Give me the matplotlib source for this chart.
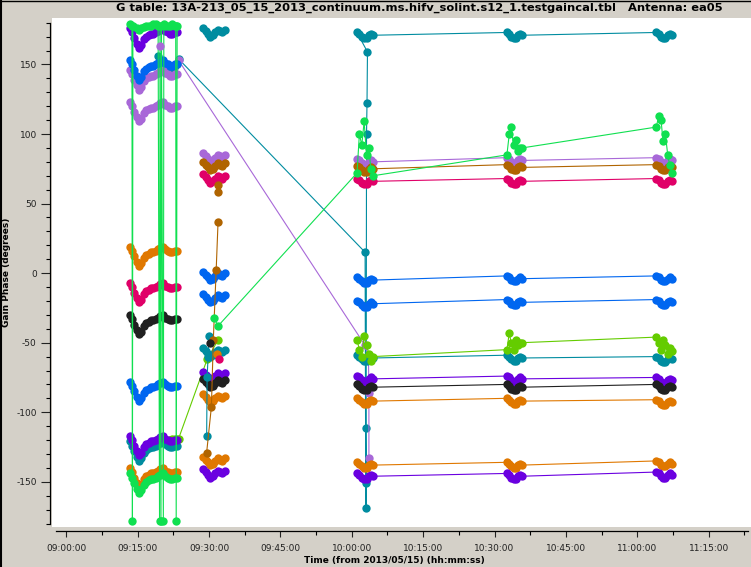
import matplotlib
matplotlib.use("Agg")
import matplotlib.pyplot as plt
from matplotlib.ticker import FuncFormatter, MultipleLocator
from matplotlib.lines import Line2D

plt.rcParams["axes.unicode_minus"] = False

# minutes after 09:00:00 on 2013/05/15
SCAN1_T = [13.3, 13.8, 14.3, 14.8, 15.3, 15.8, 16.3, 16.8, 17.3, 17.8, 18.3,
           18.8, 19.3, 19.8, 20.3, 20.8, 21.3, 21.8, 22.3, 22.8, 23.3]
SCAN1_SHAPE = [0, -3, -7, -11, -14, -12, -8, -6, -5, -4, -4,
               -3, -2, -1, 0, -2, -3, -4, -4, -3, -3]
SCAN2_T = [28.8, 29.3, 29.8, 30.3, 30.8, 31.3, 31.8, 32.3, 32.8, 33.3]
SCAN2_SHAPE = [2, 0, -2, -4, -3, -1, 1, 0, -1, 1]
SCAN3_T = [61.1, 61.6, 62.1, 62.6, 63.1, 63.6, 64.0, 64.5]
SCAN4_T = [92.6, 93.1, 93.5, 94.0, 94.5, 94.9, 95.4, 95.8]
SCAN5_T = [124.0, 124.5, 125.0, 125.4, 125.9, 126.4, 126.8, 127.3]
SHORT_SHAPE = [1, 0, -2, -3, -3, -1, 0, -1]

GREEN = "#10e050"
VIOLET = "#6a00e0"
BLUE = "#0066f0"
TEAL = "#008ca0"
LPURPLE = "#a868d8"
ORANGE = "#e07800"
BROWN = "#b06400"
PINK = "#e00068"
BLACK = "#202020"
LIME = "#64cc00"

# scan 1 starting phase per series (deg)
scan1_levels = {
    "teal_lo": (TEAL, -121), "violet_b": (VIOLET, -117), "orange_b": (ORANGE, -140),
    "green_lo": (GREEN, -144), "blue_b": (BLUE, -78), "black": (BLACK, -30),
    "pink": (PINK, -7), "orange_a": (ORANGE, 19), "lpurple_b": (LPURPLE, 123),
    "violet_a": (VIOLET, 176),
}
lpurple_a_level = 146
blue_a_level = 153

# green series wrapping around +-180 in scan 1
green_top_t = [13.3, 13.8, 13.9, 14.0, 14.8, 15.3, 15.8, 16.3, 16.8, 17.3, 17.8, 18.3,
               18.8, 19.3, 19.6, 19.7, 19.9, 20.0, 20.4, 20.5, 20.8, 21.3, 21.8, 22.3,
               22.8, 23.0, 23.1, 23.3]
green_top_v = [179, 178, -178, 178, 176, 175, 176, 177, 178, 178, 178, 179,
               179, 178, -178, 178, -178, 178, -178, 179, 178, 178, 178, 179,
               178, 178, -178, 178]

# teal and lime seen only in the second half of scan 1
teal_s1_t = [19.3, 19.8, 20.3, 20.8, 21.3, 21.8, 22.3, 22.8, 23.3, 23.6]
teal_s1_v = [156, 152, 148, 150, 146, 148, 147, 149, 150, 154]
lime_s1_t = [19.3, 19.8, 20.3, 20.8, 21.3, 21.8, 22.3, 22.8, 23.3, 23.6]
lime_s1_v = [-121, -120, -119, -120, -121, -120, -119, -119, -119, -119]

# scan 2 levels
scan2_levels = {
    "teal_hi": (TEAL, 174), "lpurple": (LPURPLE, 84), "brown": (BROWN, 78),
    "pink": (PINK, 69), "blue_a": (BLUE, -1), "blue_b": (BLUE, -17),
    "teal_lo": (TEAL, -56), "violet_a": (VIOLET, -73), "black": (BLACK, -78),
    "orange_a": (ORANGE, -89), "orange_b": (ORANGE, -134), "violet_b": (VIOLET, -143),
}
brown_s2_dots_t = [31.9, 31.8]
brown_s2_dots_v = [63, 58]
brown_s2_t = [31.9, 31.5, 30.9, 30.5, 29.5]
brown_s2_v = [37, 2, -48, -96, -129]
teal_s2_t = [30.0, 29.8, 29.6, 29.5]
teal_s2_v = [-45, -60, -75, -117]
lime_s2_t = [29.6, 31.9]
lime_s2_v = [-62, -48]
scatter_s2_t = [30.2, 31.6, 32.0]
scatter_s2_v = [-50, -58, -62]
scatter_s2_c = [BLACK, ORANGE, PINK]

# scans 3-5 levels
late_levels = {
    "teal_lo": (TEAL, [-60, -60, -61]), "lpurple": (LPURPLE, [81, 82, 82]),
    "brown": (BROWN, [76, 77, 77]), "pink": (PINK, [67, 67, 67]),
    "blue_a": (BLUE, [-4, -3, -3]), "blue_b": (BLUE, [-21, -20, -20]),
    "violet_a": (VIOLET, [-75, -75, -76]), "black": (BLACK, [-81, -81, -81]),
    "orange_a": (ORANGE, [-91, -91, -92]), "orange_b": (ORANGE, [-137, -137, -136]),
    "violet_b": (VIOLET, [-145, -145, -144]),
}
teal_hi_levels = [172, 172, 172]
teal_s3_out_t = [62.8, 62.9, 63.0, 63.0, 63.1, 63.2, 63.3]
teal_s3_out_v = [15, -111, -151, -169, 100, 122, 159]
lpurple_s3_out_t = [62.8, 63.5, 63.6, 63.6]
lpurple_s3_out_v = [-52, -60, -86, -133]

green_mid_s2_t = [31.0, 31.9]
green_mid_s2_v = [-32, -38]
green_mid_s3 = [72, 100, 92, 109, 85, 90, 75, 70]
green_mid_s4 = [85, 100, 105, 92, 96, 88, 90, 90]
green_mid_s5 = [105, 113, 110, 95, 100, 85, 78, 72]
lime_s3 = [-48, -55, -60, -45, -52, -58, -63, -60]
lime_s4 = [-55, -43, -50, -55, -48, -52, -50, -50]
lime_s5 = [-46, -50, -55, -48, -52, -58, -54, -56]

TITLE = "G table: 13A-213_05_15_2013_continuum.ms.hifv_solint.s12_1.testgaincal.tbl   Antenna: ea05"


def shaped(times, shape, level):
    return list(times), [level + s for s in shape]


fig = plt.figure(figsize=(7.51, 5.67), dpi=100, facecolor="#d4d0c8")
ax = fig.add_axes([52 / 751, 40 / 567, 699 / 751, 509 / 567], facecolor="white")

style = dict(lw=0.8, marker="o", ms=6, mew=0)


def draw(t, v, color, **kw):
    opts = dict(style)
    opts.update(kw)
    ax.plot(t, v, color=color, **opts)


# scan 1 (with links onward)
draw(teal_s1_t + teal_s3_out_t + SCAN3_T + SCAN4_T + SCAN5_T,
     teal_s1_v + teal_s3_out_v
     + [l + s for l in teal_hi_levels for s in SHORT_SHAPE], TEAL)
t1, v1 = shaped(SCAN1_T, SCAN1_SHAPE, lpurple_a_level)
draw(t1 + [23.6] + lpurple_s3_out_t, v1 + [153] + lpurple_s3_out_v, LPURPLE)
t1, v1 = shaped(SCAN1_T, SCAN1_SHAPE, blue_a_level)
draw(t1, v1, BLUE)
draw(lime_s1_t + lime_s2_t, lime_s1_v + lime_s2_v, LIME)
for name, (color, level) in scan1_levels.items():
    t1, v1 = shaped(SCAN1_T, SCAN1_SHAPE, level)
    draw(t1, v1, color)
draw(green_top_t, green_top_v, GREEN)
draw([19.7], [163], LPURPLE)

# scan 2
for name, (color, level) in scan2_levels.items():
    t2, v2 = shaped(SCAN2_T, SCAN2_SHAPE, level)
    draw(t2, v2, color)
draw(teal_s2_t, teal_s2_v, TEAL)
draw(brown_s2_t, brown_s2_v, BROWN)
draw(brown_s2_dots_t, brown_s2_dots_v, BROWN, ls="none")
for t, v, c in zip(scatter_s2_t, scatter_s2_v, scatter_s2_c):
    draw([t], [v], c)

# scans 3-5
for name, (color, levels) in late_levels.items():
    tt, vv = [], []
    for times, level in zip([SCAN3_T, SCAN4_T, SCAN5_T], levels):
        tt += times
        vv += [level + s for s in SHORT_SHAPE]
    draw(tt, vv, color)
draw(green_mid_s2_t + SCAN3_T + SCAN4_T + SCAN5_T,
     green_mid_s2_v + green_mid_s3 + green_mid_s4 + green_mid_s5, GREEN)
draw(SCAN3_T + SCAN4_T + SCAN5_T, lime_s3 + lime_s4 + lime_s5, LIME)

ax.set_xlim(-3.0, 143.9)
ax.set_ylim(-182.5, 183.4)

for side in ("top", "right"):
    ax.spines[side].set_visible(False)
ax.spines["left"].set_position(("outward", 1.5))
ax.spines["bottom"].set_position(("outward", 3))
ax.spines["left"].set_bounds(-180, 180)
ax.spines["bottom"].set_bounds(-2.1, 143.3)
for side in ("left", "bottom"):
    ax.spines[side].set_linewidth(0.9)

ax.xaxis.set_major_locator(MultipleLocator(15))
ax.xaxis.set_minor_locator(MultipleLocator(7.5))
ax.yaxis.set_major_locator(MultipleLocator(50))
ax.yaxis.set_minor_locator(MultipleLocator(10))


def hms(x, _):
    total = int(round(x * 60))
    h = 9 + total // 3600
    m = (total % 3600) // 60
    s = total % 60
    return f"{h:02d}:{m:02d}:{s:02d}"


ax.xaxis.set_major_formatter(FuncFormatter(hms))
ax.tick_params(axis="y", which="major", length=6.5, width=0.8, pad=3, labelsize=6.5, colors="#222222")
ax.tick_params(axis="y", which="minor", length=3, width=0.8)
ax.tick_params(axis="x", which="major", length=4.3, width=0.8, pad=5, labelsize=6.5, colors="#222222")
ax.tick_params(axis="x", which="minor", length=3, width=0.8)

ax.set_xlabel("Time (from 2013/05/15) (hh:mm:ss)", fontsize=6.5, fontweight="bold")
ax.set_ylabel("Gain Phase (degrees)", fontsize=6.5, fontweight="bold")
ax.xaxis.label.set_va("center")
ax.yaxis.label.set_va("center")
ax.yaxis.set_label_coords(-45 / 699, 0.5)
ax.xaxis.set_label_coords((394 - 52) / 699, -34 / 509)

fig.text(419 / 751, 1 - 8 / 567, TITLE, ha="center", va="center", fontsize=8.25, fontweight="bold")

fig.add_artist(Line2D([0.001, 0.001], [0, 1], color="black", lw=1.5))
fig.add_artist(Line2D([0, 1], [0.999, 0.999], color="black", lw=1))

fig.savefig("out.png", dpi=100, facecolor=fig.get_facecolor())
